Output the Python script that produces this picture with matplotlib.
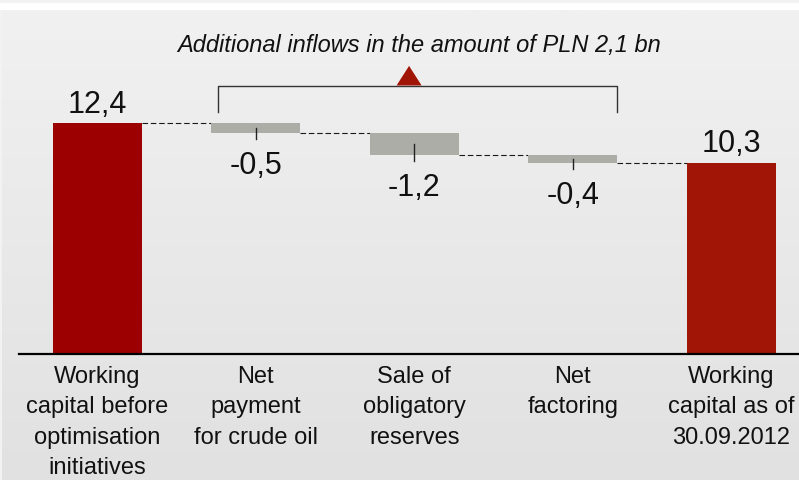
import numpy as np
import matplotlib.pyplot as plt
from matplotlib.patches import Polygon, Rectangle
from matplotlib.colors import LinearSegmentedColormap

# Data
categories = ["Working\ncapital before\noptimisation\ninitiatives",
              "Net\npayment\nfor crude oil",
              "Sale of\nobligatory\nreserves",
              "Net\nfactoring",
              "Working\ncapital as of\n30.09.2012"]
values = [12.4, -0.5, -1.2, -0.4, 10.3]
value_labels = ["12,4", "-0,5", "-1,2", "-0,4", "10,3"]
is_total = [True, False, False, False, True]
title = "Additional inflows in the amount of PLN 2,1 bn"

font = ['Liberation Sans', 'DejaVu Sans']
total_colors = ['#9c0000', '#a01505']
delta_color = '#adada8'

fig = plt.figure(figsize=(7.99, 4.81), dpi=100, facecolor='#f2f2f2')

# background: white band and gradient panel
fig.patches.append(Rectangle((0, 1 - 11 / 481), 1, 7 / 481, transform=fig.transFigure,
                             facecolor='white', edgecolor='none', zorder=0))
bg = fig.add_axes([2 / 799, 0, 1, 1 - 11 / 481])
grad = np.linspace(0, 1, 256).reshape(-1, 1)
bg.imshow(grad, aspect='auto', cmap=LinearSegmentedColormap.from_list('bg', ['#f1f1f1', '#e1e1e1']),
          extent=(0, 1, 0, 1), origin='upper')
bg.axis('off')

ax = fig.add_axes([0, 0, 1, 1])
ax.set_facecolor('none')
ax.axis('off')
ax.set_xlim(-0.6155, 4.4287)
ax.set_ylim(-6.736, 19.08)

x = np.arange(len(values))
width = 0.562

# waterfall geometry
bottoms, heights = [], []
running = 0.0
for v, tot in zip(values, is_total):
    if tot:
        bottoms.append(0.0)
        heights.append(v)
        running = v
    else:
        bottoms.append(running + v)
        heights.append(-v)
        running = running + v

colors = []
ti = 0
for tot in is_total:
    if tot:
        colors.append(total_colors[ti])
        ti += 1
    else:
        colors.append(delta_color)

ax.bar(x, heights, bottom=bottoms, width=width, color=colors, zorder=3)

# connectors
for i in range(len(values) - 1):
    lvl = bottoms[i] + heights[i] if is_total[i] else bottoms[i]
    ax.plot([x[i] + width / 2, x[i + 1] - width / 2], [lvl, lvl], color='#1a1a1a',
            lw=0.8, dashes=(5, 2.5), zorder=2)

# value labels, small tick marks on the deltas
for i, (v, tot) in enumerate(zip(values, is_total)):
    if tot:
        ax.annotate(value_labels[i], (x[i], bottoms[i] + heights[i]), xytext=(0, 8.6),
                    textcoords='offset points', ha='center', va='baseline',
                    fontsize=22, family=font, color='#111111')
    else:
        mid = bottoms[i] + heights[i] / 2
        ax.plot([x[i], x[i]], [mid, bottoms[i] - 0.32], color='#222222', lw=1.0, zorder=4)
        ax.annotate(value_labels[i], (x[i], bottoms[i]), xytext=(0, -28.8),
                    textcoords='offset points', ha='center', va='baseline',
                    fontsize=22, family=font, color='#111111')

# category labels
for i, lab in enumerate(categories):
    ax.annotate(lab, (x[i], 0), xytext=(0, -7.4), textcoords='offset points',
                ha='center', va='top', fontsize=17, family=font,
                linespacing=1.5, color='#111111')

# baseline
ax.axhline(0, xmin=19 / 799, xmax=1, color='black', lw=1.6, zorder=5)

# bracket with triangle
bx0, bx1, by, bdrop = 0.761, 3.280, 14.39, 12.99
ax.plot([bx0, bx0, bx1, bx1], [bdrop, by, by, bdrop], color='#333333', lw=1.0)
tri_x, tri_w = 1.967, 0.079
ax.add_patch(Polygon([[tri_x - tri_w, by + 0.05], [tri_x + tri_w, by + 0.05], [tri_x, by + 1.1]],
                     closed=True, facecolor='#a01505', edgecolor='none', zorder=4))

fig.text(419 / 799, 1 - 52 / 481, title, ha='center', va='baseline', fontsize=17,
         style='italic', family=font, color='#111111')

fig.savefig('out.png', dpi=100, facecolor=fig.get_facecolor())
